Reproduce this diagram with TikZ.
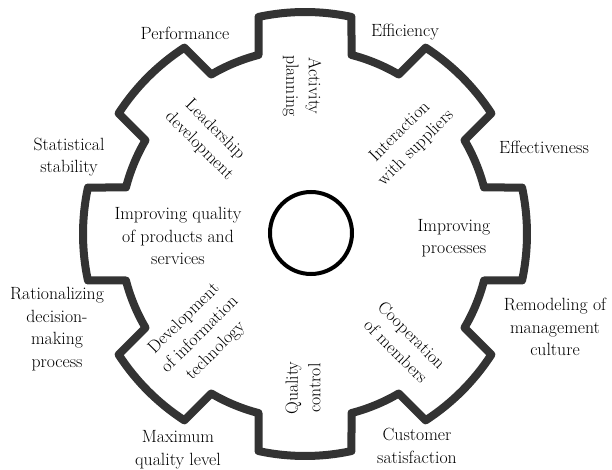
\documentclass[tikz,border=0pt]{standalone}
\usetikzlibrary{positioning}

\begin{document}
\begin{tikzpicture}[
  x=1pt, y=1pt,
  every node/.style={font=\fontsize{17.7}{22.5}\selectfont, align=center, inner sep=0pt},
  gearline/.style={draw=black!80, line width=8pt, line join=round},
  hub/.style={draw=black, line width=4pt}
]
  \useasboundingbox (-305,-236) rectangle (307,234);

  \draw[gearline] (75.44:185)
    \foreach \t in {90,135,...,405} {
      -- (\t-12.09:222) arc[start angle=\t-12.09, end angle=\t+12.09, radius=222]
      -- (\t+14.56:185) arc[start angle=\t+14.56, end angle=\t+30.44, radius=185]
    } -- cycle;
  \draw[hub] (6,1) circle[radius=41];

  \node (perf) at (-120,201) {Performance};
  \node (effi) at (100,202) {Efficiency};
  \node (effe) at (239,87) {Effectiveness};
  \node (stat) at (-236,77) {Statistical\\stability};
  \node (rati) at (-248,-95) {Rationalizing\\decision-\\making\\process};
  \node (maxq) at (-127,-216) {Maximum\\quality level};
  \node (cust) at (112,-212) {Customer\\satisfaction};
  \node (remo) at (250,-93) {Remodeling of\\management\\culture};

  \node[rotate=-90] (plan) at (-3,148) {Activity\\planning};
  \node[rotate=-45] (lead) at (-98,96) {Leadership\\development};
  \node[rotate=45] (supp) at (103,94) {Interaction\\with suppliers};
  \node (proc) at (149,-4) {Improving\\processes};
  \node[rotate=-45] (coop) at (99,-109) {Cooperation\\of members};
  \node[rotate=90] (qual) at (-2,-154) {Quality\\control};
  \node[rotate=45] (tech) at (-105,-101) {Development\\of information\\technology};
  \node (prod) at (-127,-2) {Improving quality\\of products and\\services};
\end{tikzpicture}
\end{document}
